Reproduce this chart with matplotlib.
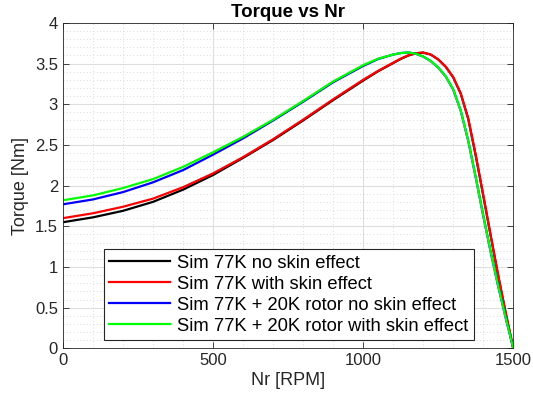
import numpy as np
import matplotlib.pyplot as plt
from matplotlib.ticker import MultipleLocator

# speed points [RPM] and torque readings [Nm]
nr = [0, 100, 200, 300, 400, 500, 600, 700, 800, 900, 1000, 1050, 1100, 1125, 1150, 1175,
      1200, 1225, 1250, 1275, 1300, 1325, 1350, 1375, 1400, 1425, 1450, 1475, 1500]

t_77k_noskin = [1.55, 1.61, 1.69, 1.80, 1.95, 2.13, 2.34, 2.56, 2.80, 3.05, 3.29,
                3.405, 3.505, 3.555, 3.597, 3.625, 3.633, 3.61, 3.55, 3.46, 3.33, 3.13,
                2.82, 2.37, 1.88, 1.38, 0.89, 0.43, 0.0]
t_77k_skin = [1.60, 1.66, 1.74, 1.84, 1.98, 2.15, 2.35, 2.57, 2.81, 3.06, 3.30,
              3.41, 3.51, 3.56, 3.60, 3.627, 3.635, 3.61, 3.55, 3.46, 3.33, 3.13,
              2.82, 2.37, 1.88, 1.38, 0.89, 0.43, 0.0]
t_20k_noskin = [1.77, 1.83, 1.92, 2.04, 2.19, 2.38, 2.58, 2.80, 3.03, 3.27, 3.47,
                3.555, 3.61, 3.628, 3.636, 3.62, 3.585, 3.53, 3.45, 3.34, 3.18, 2.92,
                2.55, 2.10, 1.63, 1.18, 0.76, 0.37, 0.0]
t_20k_skin = [1.82, 1.88, 1.97, 2.08, 2.23, 2.41, 2.60, 2.81, 3.04, 3.28, 3.48,
              3.56, 3.61, 3.628, 3.636, 3.62, 3.585, 3.53, 3.45, 3.34, 3.18, 2.92,
              2.55, 2.10, 1.63, 1.18, 0.76, 0.37, 0.0]

labels = ['Sim 77K no skin effect', 'Sim 77K with skin effect',
          'Sim 77K + 20K rotor no skin effect', 'Sim 77K + 20K rotor with skin effect']

plt.rcParams['font.family'] = ['Liberation Sans', 'DejaVu Sans']

fig = plt.figure(figsize=(5.33, 4), dpi=100)
ax = fig.add_axes([0.118, 0.129, 0.845, 0.814])

ax.plot(nr, t_77k_noskin, color='black', linewidth=1.6, label=labels[0])
ax.plot(nr, t_77k_skin, color='red', linewidth=1.6, label=labels[1])
ax.plot(nr, t_20k_noskin, color='blue', linewidth=1.6, label=labels[2])
ax.plot(nr, t_20k_skin, color='#00ff00', linewidth=1.6, label=labels[3])

ax.set_xlim(0, 1500)
ax.set_ylim(0, 4)
ax.set_xticks([0, 500, 1000, 1500])
ax.xaxis.set_minor_locator(MultipleLocator(100))
ax.set_yticks(np.arange(0, 4.01, 0.5), ['0', '0.5', '1', '1.5', '2', '2.5', '3', '3.5', '4'])
ax.yaxis.set_minor_locator(MultipleLocator(0.1))

ax.grid(True, which='major', color='#dedede', linewidth=0.8)
ax.grid(True, which='minor', color='#d0d0d0', linestyle=(0, (1, 3)), linewidth=0.6)
ax.set_axisbelow(True)

ax.tick_params(which='major', direction='in', length=4, width=0.6, colors='#262626',
               top=True, right=True, labelsize=12)
ax.tick_params(which='minor', length=0, top=True, right=True)
for s in ax.spines.values():
    s.set_color('#262626')
    s.set_linewidth(0.6)

ax.set_xlabel('Nr [RPM]', fontsize=13, color='#262626', labelpad=3)
ax.set_ylabel('Torque [Nm]', fontsize=13, color='#262626', labelpad=4)
ax.set_title('Torque vs Nr', fontsize=13.5, fontweight='bold', pad=4)

leg = ax.legend(loc='lower left', bbox_to_anchor=(0.091, 0.025), fontsize=13.2,
                handlelength=3.3, handletextpad=0.4, labelspacing=0.22,
                borderpad=0.3, fancybox=False, framealpha=1, edgecolor='#262626',
                borderaxespad=0)
leg.get_frame().set_linewidth(0.8)

plt.savefig('out.png', dpi=100)
